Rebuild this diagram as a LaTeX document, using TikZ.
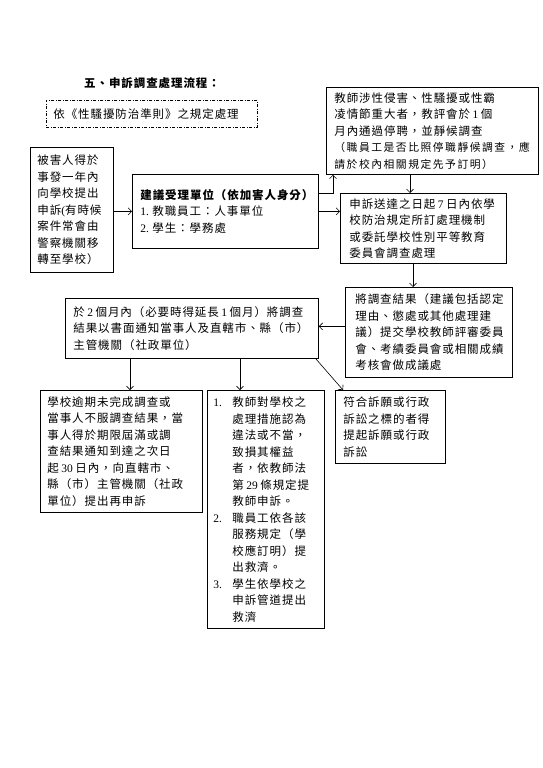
\documentclass[tikz,border=0pt]{standalone}
\usepackage{fontspec}
\setmainfont{Noto Sans CJK TC}[LetterSpace=8]
\newfontfamily\smallfont{Noto Sans CJK TC}[LetterSpace=14]
\newfontfamily\lat{Liberation Serif}
\usetikzlibrary{arrows.meta}
\newcommand{\dg}[1]{\hspace{2.5pt}{\lat #1}\hspace{2.5pt}}
\newcommand{\numi}[1]{\makebox[19pt][l]{\lat #1}}
\newcommand{\indi}{\hspace*{19pt}}
\begin{document}
\begin{tikzpicture}[x=1pt,y=-1pt,
  box/.style={draw, line width=0.8pt, anchor=north west, inner ysep=0pt, align=left,
    font=\fontsize{11.5}{16.5}\selectfont},
  arr/.style={line width=0.6pt, -{Straight Barb[length=3.5pt,width=7pt]}}]
\useasboundingbox[fill=white] (0,0) rectangle (543,768);

\node[font=\bfseries\fontsize{11.5}{14}\selectfont, anchor=west, inner sep=0pt] (title) at (84,83) {五、申訴調查處理流程：};

\node[box, dash pattern=on 3pt off 1.5pt on 1pt off 1.5pt, line width=0.7pt,
  minimum width=211pt, minimum height=27pt, text width=197pt, inner xsep=7pt] (rule) at (46,100)
  {依《性騷擾防治準則》之規定處理};

\node[box, minimum width=212pt, minimum height=87pt, text width=196pt, inner xsep=8pt] (TR) at (326,87)
  {教師涉性侵害、性騷擾或性霸\\
   凌情節重大者，教評會於\dg{1}個\\
   月內通過停聘，並靜候調查\\
   {\smallfont\fontsize{10.8}{16.5}\selectfont （職員工是否比照停職靜候調查，應}\\
   {\smallfont\fontsize{10.8}{16.5}\selectfont 請於校內相關規定先予訂明）}};

\node[box, minimum width=83pt, minimum height=125pt, text width=69pt, inner xsep=7pt] (A) at (30,147)
  {被害人得於\\事發一年內\\向學校提出\\申訴{\lat(}有時候\\案件常會由\\警察機關移\\轉至學校）};

\node[box, minimum width=186pt, minimum height=74pt, text width=170pt, inner xsep=8pt] (B) at (132,174)
  {\textbf{建議受理單位（依加害人身分）}\\
   \makebox[12pt][l]{\lat 1.}教職員工：人事單位\\
   \makebox[12pt][l]{\lat 2.}學生：學務處};

\node[box, minimum width=166pt, minimum height=70pt, text width=148pt, inner xsep=9pt] (C) at (340,193)
  {申訴送達之日起\dg{7}日內依學\\校防治規定所訂處理機制\\或委託學校性別平等教育\\委員會調查處理};

\node[box, minimum width=167pt, minimum height=90pt, text width=147pt, inner xsep=10pt] (D) at (345,287)
  {將調查結果（建議包括認定\\理由、懲處或其他處理建\\議）提交學校教師評審委員\\會、考績委員會或相關成績\\考核會做成議處};

\node[box, minimum width=253pt, minimum height=60pt, text width=237pt, inner xsep=8pt] (E) at (65,298)
  {於\dg{2}個月內（必要時得延長\dg{1}個月）將調查\\結果以書面通知當事人及直轄市、縣（市）\\主管機關（社政單位）};

\node[box, minimum width=162pt, minimum height=122pt, text width=148pt, inner xsep=7pt] (F) at (40,390)
  {學校逾期未完成調查或\\當事人不服調查結果，當\\事人得於期限屆滿或調\\查結果通知到達之次日\\起\dg{30}日內，向直轄市、\\縣（市）主管機關（社政\\單位）提出再申訴};

\node[box, minimum width=117pt, minimum height=238pt, text width=105pt, inner xsep=6pt] (G) at (207,390)
  {\numi{1.}教師對學校之\\
   \indi 處理措施認為\\
   \indi 違法或不當，\\
   \indi 致損其權益\\
   \indi 者，依教師法\\
   \indi 第\dg{29}條規定提\\
   \indi 教師申訴。\\
   \numi{2.}職員工依各該\\
   \indi 服務規定（學\\
   \indi 校應訂明）提\\
   \indi 出救濟。\\
   \numi{3.}學生依學校之\\
   \indi 申訴管道提出\\
   \indi 救濟};

\node[box, minimum width=110pt, minimum height=73pt, text width=94pt, inner xsep=8pt] (H) at (335,390)
  {符合訴願或行政\\訴訟之標的者得\\提起訴願或行政\\訴訟};

% connectors
\draw[arr] (B.west -| A.east) -- (B.west);
\draw[arr] ([yshift=18pt]B.east) -| ([xshift=7pt]TR.south west);
\draw[arr] (B.east) -- (B.east -| C.west);
\draw[arr] ([xshift=84pt]TR.south west) -- ([xshift=84pt]TR.south west |- C.north);
\draw[arr] ([xshift=73pt]C.south west) -- ([xshift=73pt]C.south west |- D.north);
\draw[arr] ([yshift=6pt]D.west) -- ([yshift=6pt]D.west -| E.east);
\draw[arr] ([xshift=65pt]E.south west) -- ([xshift=65pt]E.south west |- F.north);
\draw[arr] ([xshift=175pt]E.south west) -- ([xshift=175pt]E.south west |- G.north);
\draw[arr] ([xshift=-3pt]E.south east) -- ([xshift=8pt]H.north west);
\end{tikzpicture}
\end{document}
